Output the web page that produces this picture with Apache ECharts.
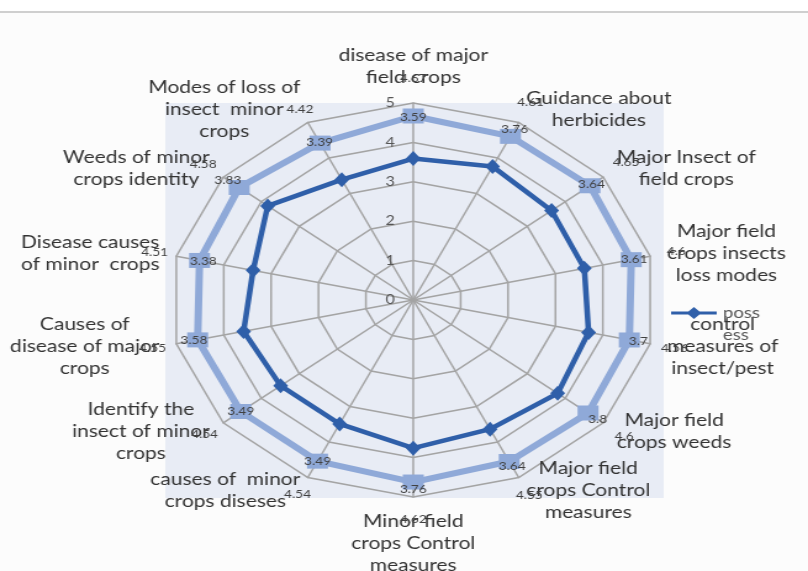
<!DOCTYPE html>
<html>
<head>
<meta charset="utf-8">
<script src="https://cdn.jsdelivr.net/npm/echarts@6/dist/echarts.min.js"></script>
<style>
  html, body { margin: 0; padding: 0; background: #ffffff; overflow: hidden; }
  #wrap { width: 808px; height: 571px; overflow: hidden; position: relative; }
  /* the radar is drawn narrower and stretched horizontally to an elliptical web */
  #chart { width: 655px; height: 571px; transform: scaleX(1.2336); transform-origin: 0 0; }
</style>
</head>
<body>
<div id="wrap"><div id="chart"></div></div>
<script>
// Indicators, clockwise from the top
const categories = [
  'disease of major\nfield crops',
  'Guidance about\nherbicides',
  'Major Insect of\nfield crops',
  'Major field\ncrops insects\nloss modes',
  'control\nmeasures of\ninsect/pest',
  'Major field\ncrops weeds',
  'Major field\ncrops Control\nmeasures',
  'Minor field\ncrops Control\nmeasures',
  'causes of  minor\ncrops diseses',
  'Identify the\ninsect of minor\ncrops',
  'Causes of\ndisease of major\ncrops',
  'Disease causes\nof minor  crops',
  'Weeds of minor\ncrops identity',
  'Modes of loss of\ninsect  minor\ncrops'
];
// Outer series (squares)
const outerValues = [4.67, 4.61, 4.65, 4.6, 4.56, 4.6, 4.55, 4.62, 4.54, 4.54, 4.55, 4.51, 4.58, 4.42];
// "possess" series (diamonds)
const possValues = [3.59, 3.76, 3.64, 3.61, 3.7, 3.8, 3.64, 3.76, 3.49, 3.49, 3.58, 3.38, 3.83, 3.39];
const tickLabels = ['0', '1', '2', '3', '4', '5'];
const axisMax = 5;

const POSS_NAME = 'poss\ness';
const LIGHT = '#8fa9d8';
const DARK = '#2f5fa9';
const TEXT = '#333333';
const FONT = 'Lato, "Liberation Sans", sans-serif';

// ECharts lays indicators out counter-clockwise; reorder so they read clockwise
const cw = arr => [arr[0]].concat(arr.slice(1).reverse());

// value labels sit a fixed step outward from their points
const LABEL_STEP_OUTER = 0.95;
const LABEL_STEP_POSS = 1.05;
const fmt = v => String(Math.round(v * 100) / 100);

const indicator = cw(categories).map((name, i) => {
  const ind = { name: name, min: 0, max: axisMax };
  if (i === 0) {
    ind.axisLabel = {
      show: true, color: '#555', fontSize: 13, margin: 15, fontFamily: FONT,
      formatter: v => tickLabels[Math.round(v)] || ''
    };
  }
  return ind;
});

function labelSeries(values, step) {
  return {
    type: 'radar', silent: true, z: 5,
    symbol: 'circle', symbolSize: 1,
    lineStyle: { width: 0, opacity: 0 },
    itemStyle: { color: 'rgba(0,0,0,0)' },
    label: {
      show: true, position: 'inside', color: '#404040', fontSize: 11, fontFamily: FONT,
      formatter: p => (typeof p.value === 'number' ? fmt(p.value - step) : '')
    },
    data: [{ name: 'label', value: cw(values).map(v => v + step) }]
  };
}

const chart = echarts.init(document.getElementById('chart'), null, { renderer: 'canvas' });
chart.setOption({
  animation: false,
  backgroundColor: '#ffffff',
  graphic: [
    { type: 'rect', z: -10, shape: { x: 0, y: 13, width: 655, height: 560 }, style: { fill: '#fcfcfc' } },
    { type: 'line', z: -9, shape: { x1: 0, y1: 12, x2: 655, y2: 12 }, style: { stroke: '#cfcfcf', lineWidth: 2 } },
    { type: 'rect', z: -8, shape: { x: 134, y: 103, width: 404, height: 395 }, style: { fill: '#e8ecf5' } }
  ],
  legend: {
    data: [POSS_NAME],
    left: 539, top: 275,
    orient: 'vertical',
    itemWidth: 37, itemHeight: 12, itemGap: 5,
    icon: 'path://M0,4.5H37V7.5H0Z M18.5,0L24.5,6L18.5,12L12.5,6Z',
    // a blank first line keeps "poss" level with the icon and "ess" below it
    formatter: name => ' \n' + name,
    textStyle: { color: '#555', fontSize: 15, lineHeight: 22, fontFamily: FONT }
  },
  radar: {
    center: [335, 300],
    radius: 197,
    startAngle: 90,
    splitNumber: 5,
    shape: 'polygon',
    nameGap: 14,
    axisName: {
      color: TEXT, fontSize: 17, fontFamily: FONT,
      formatter: name => name.split('\n').map(l => '{c|' + l + '}').join('\n'),
      rich: { c: { align: 'center', color: TEXT, fontSize: 17, lineHeight: 22, fontFamily: FONT } }
    },
    axisLine: { show: true, lineStyle: { color: '#a4a4a4', width: 1.5 } },
    splitLine: { show: true, lineStyle: { color: '#a4a4a4', width: 1.5 } },
    splitArea: { show: false },
    axisTick: { show: false },
    axisLabel: { show: false },
    indicator: indicator
  },
  series: [
    {
      type: 'radar', z: 2,
      symbol: 'rect', symbolSize: [17, 15],
      lineStyle: { color: LIGHT, width: 6 },
      itemStyle: { color: LIGHT },
      data: [{ name: 'outer', value: cw(outerValues) }]
    },
    {
      type: 'radar', z: 3,
      symbol: 'diamond', symbolSize: [12, 15],
      lineStyle: { color: DARK, width: 4.5 },
      itemStyle: { color: DARK },
      data: [{ name: POSS_NAME, value: cw(possValues) }]
    },
    labelSeries(outerValues, LABEL_STEP_OUTER),
    labelSeries(possValues, LABEL_STEP_POSS)
  ]
});
</script>
</body>
</html>
